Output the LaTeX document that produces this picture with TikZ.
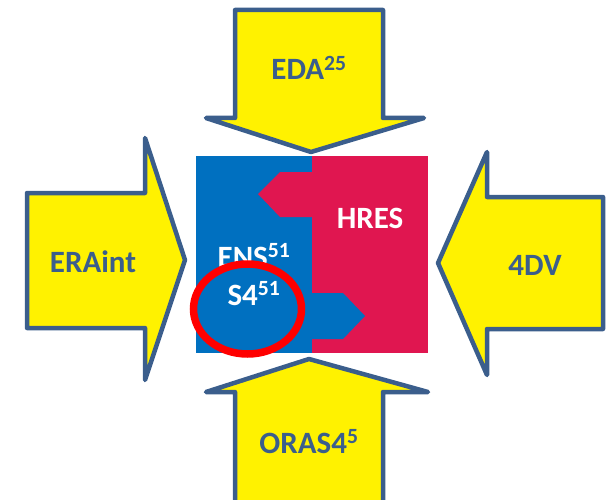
\documentclass[tikz,border=0pt]{standalone}
\usepackage{fontspec}
\setmainfont{Carlito}
\usetikzlibrary{positioning}
\definecolor{feedblue}{RGB}{59,94,140}
\definecolor{ensblue}{RGB}{0,112,192}
\definecolor{hresred}{RGB}{224,22,80}

\begin{document}
\begin{tikzpicture}[x=1pt, y=-1pt, every node/.style={font=\bfseries\fontsize{31}{36}\selectfont, inner sep=0pt, anchor=base},
  feed/.style={draw=feedblue, fill=yellow, line width=4.5pt, line join=round},
  feedlabel/.style={text=feedblue},
  boxlabel/.style={text=white}]
    \clip (0,0) rectangle (613,500);

    % yellow arrows
    \draw[feed] (235,10) -- (383,10) -- (383,118) -- (424,118) -- (311,152) -- (206,118) -- (235,118) -- cycle;
    \draw[feed] (27,193) -- (145,193) -- (145,138) -- (185,260) -- (145,380) -- (145,328) -- (27,328) -- cycle;
    \draw[feed] (603,197) -- (487,197) -- (487,152) -- (438,263) -- (487,375) -- (487,329) -- (603,329) -- cycle;
    \draw[feed] (235,520) -- (235,392) -- (206,392) -- (309,359) -- (428,392) -- (383,392) -- (383,520) -- cycle;

    % centre box
    \fill[ensblue] (196,156) rectangle (312,353);
    \fill[hresred] (312,156) rectangle (428,353);
    \fill[hresred] (312,172) -- (280,172) -- (258,194) -- (280,217) -- (312,217) -- cycle;
    \fill[ensblue] (312,293) -- (343,293) -- (365,316) -- (343,339) -- (312,339) -- cycle;

    \node[feedlabel] (eda) at (309,80) {EDA\textsuperscript{25}};
    \node[feedlabel] (eraint) at (93,272) {ERAint};
    \node[feedlabel] (fourdv) at (535,275) {4DV};
    \node[feedlabel] (oras) at (309,453) {ORAS4\textsuperscript{5}};

    \node[boxlabel] (hres) at (370,228) {HRES};
    \node[boxlabel] (ens) at (254,267) {ENS\textsuperscript{51}};
    \node[boxlabel] (sfour) at (254,305) {S4\textsuperscript{51}};

    \draw[red, line width=7.5pt] (247.5,309) ellipse [x radius=54pt, y radius=45pt];
\end{tikzpicture}
\end{document}
